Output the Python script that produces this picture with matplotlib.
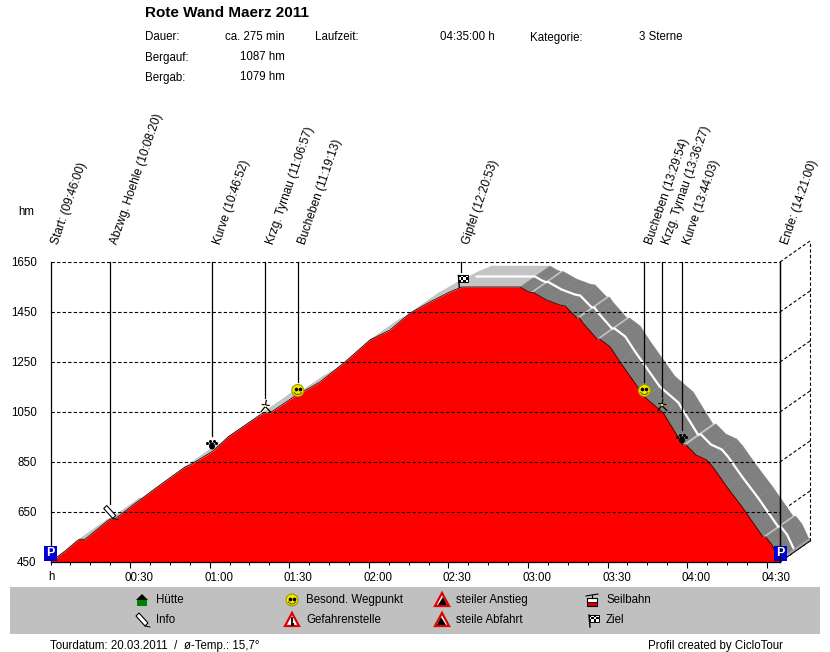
import matplotlib
matplotlib.use("Agg")
import matplotlib.pyplot as plt
from matplotlib.patches import Rectangle, Polygon, Circle, Ellipse, Arc
from matplotlib.collections import PolyCollection
from matplotlib.transforms import ScaledTranslation

plt.rcParams['font.family'] = ['Liberation Sans', 'DejaVu Sans']

# ---------- data ----------
minutes = [0, 5.5, 10.4, 11.3, 13, 22.4, 24.3, 31.1, 41.3, 50.7, 52.6, 61.3, 66.9, 80.1, 82.7,
           92.2, 101.6, 111, 120.4, 128, 135.6, 143, 150.5, 155, 177, 179.6, 181, 182, 187, 192,
           194, 198.4, 199.4, 200.7, 206, 207, 211, 214.7, 224, 231, 238.4, 239.6, 243.3, 247.4,
           249.7, 255, 261, 268.6, 269.6, 272, 275]
elevation = [450, 494, 538, 541, 541, 622, 622, 678, 758, 830, 838, 894, 950, 1046, 1046,
             1114, 1170, 1250, 1338, 1378, 1446, 1490, 1530, 1550, 1550, 1534, 1528, 1528, 1498, 1478,
             1474, 1426, 1426, 1406, 1342, 1342, 1310, 1250, 1110, 1046, 918, 918, 878, 858,
             830, 750, 666, 550, 550, 518, 450]

way_names = ["Start: (09:46:00)", "Abzwg. Hoehle (10:08:20)", "Kurve (10:46:52)",
             "Krzg. Tyrnau (11:06:57)", "Bucheben (11:19:13)", "Gipfel (12:20:53)",
             "Bucheben (13:29:54)", "Krzg. Tyrnau (13:36:27)", "Kurve (13:44:03)", "Ende: (14:21:00)"]
way_min = [0, 22.33, 60.87, 80.95, 93.22, 154.88, 223.9, 230.45, 238.05, 275]
way_ele = [450, 622, 894, 1046, 1110, 1550, 1110, 1050, 918, 450]
way_icon = ["P", "pin", "paw", "run", "smile", "flag", "smile", "run", "paw", "P"]

y_ticks = [450, 650, 850, 1050, 1250, 1450, 1650]
x_major = [30, 60, 90, 120, 150, 180, 210, 240, 270]
x_labels = ["00:30", "01:00", "01:30", "02:00", "02:30", "03:00", "03:30", "04:00", "04:30"]
x_minor_step = 7.5

depth_min = 11.3
depth_hm = 84

# ---------- figure ----------
W, H = 830, 652
fig = plt.figure(figsize=(W / 100, H / 100), dpi=100, facecolor="white")
ax = fig.add_axes([50.5 / W, (H - 562) / H, (780 - 50.5) / W, 300 / H])
ax.set_xlim(0, 275)
ax.set_ylim(450, 1650)
ax.patch.set_alpha(0)
for s in ("top",):
    ax.spines[s].set_visible(False)
for s in ("left", "right", "bottom"):
    ax.spines[s].set_linewidth(0.9)
    ax.spines[s].set_zorder(6)

# back wall, side grid
for h in y_ticks:
    ax.plot([275, 275 + depth_min], [h, h + depth_hm], color="k", lw=0.8, ls=(0, (3, 2)),
            clip_on=False, zorder=1)
ax.plot([275 + depth_min] * 2, [450 + depth_hm, 1650 + depth_hm], color="k", lw=0.8,
        ls=(0, (3, 2)), clip_on=False, zorder=1)

# 3D band
quads, cols = [], []
for i in range(len(minutes) - 1):
    t0, t1, e0, e1 = minutes[i], minutes[i + 1], elevation[i], elevation[i + 1]
    quads.append([(t0, e0), (t1, e1), (t1 + depth_min, e1 + depth_hm), (t0 + depth_min, e0 + depth_hm)])
    cols.append("#c4c4c4" if e1 >= e0 else "#808080")
ax.add_collection(PolyCollection(quads, facecolors=cols, edgecolors=cols, linewidths=0.3,
                                 clip_on=False, zorder=2))
# white stripe in the middle of the band
i0 = minutes.index(155)
ax.plot([t + depth_min / 2 for t in minutes[i0:]], [e + depth_hm / 2 for e in elevation[i0:]],
        color="white", lw=1.6, clip_on=False, zorder=2.5, solid_joinstyle="round")
# floor
ax.add_patch(Polygon([(275, 450), (275 + depth_min, 450 + depth_hm),
                      (275 + depth_min, 450 + depth_hm + 14), (275, 464)],
                     closed=True, fc="#a0a0a0", ec="none", clip_on=False, zorder=2.6))
ax.plot([275, 275 + depth_min], [450, 450 + depth_hm], color="k", lw=0.7, clip_on=False, zorder=2.7)

# profile
ax.fill_between(minutes, elevation, 450, color="#ff0000", lw=0, zorder=3)
ax.plot(minutes, elevation, color="#300000", lw=0.6, zorder=3.2)

# front grid
for h in y_ticks[1:]:
    ax.axhline(h, color="k", lw=0.8, ls=(0, (3, 2)), zorder=4)

# axes
ax.set_yticks(y_ticks)
ax.tick_params(axis="y", length=0, labelsize=8.3, pad=10)
ax.set_xticks(x_major)
ax.set_xticklabels(x_labels)
ax.set_xticks([i * x_minor_step for i in range(int(275 / x_minor_step) + 1)], minor=True)
ax.tick_params(axis="x", which="major", length=4, width=0.8, labelsize=8.3, pad=3)
ax.tick_params(axis="x", which="minor", length=2.5, width=0.7)
off = ScaledTranslation(9 / 100, 0, fig.dpi_scale_trans)
for lb in ax.get_xticklabels():
    lb.set_transform(lb.get_transform() + off)

# ---------- overlay in pixel coordinates ----------
ov = fig.add_axes([0, 0, 1, 1], zorder=10)
ov.set_xlim(0, W)
ov.set_ylim(H, 0)
ov.axis("off")
ov.patch.set_alpha(0)


def px(t, h):
    x, y = ax.transData.transform((t, h))
    return x, H - y


def icon_P(x, y):
    ov.add_patch(Rectangle((x - 6.5, y - 7.5), 13, 15, fc="#0000d0", ec="none"))
    ov.text(x, y + 0.3, "P", color="white", fontsize=9, fontweight="bold", ha="center", va="center")


def icon_smile(x, y):
    ov.add_patch(Circle((x, y), 6, fc="#f6e600", ec="#9a9a00", lw=0.8))
    ov.plot([x - 2, x + 2], [y - 1.5, y - 1.5], ls="none", marker="o", ms=1.6, color="k")
    ov.add_patch(Arc((x, y), 8, 8, theta1=20, theta2=160, color="#605000", lw=0.7))


def icon_paw(x, y):
    ov.add_patch(Ellipse((x, y + 1.5), 6, 7, fc="k", ec="none"))
    ov.plot([x - 4.5, x - 2, x + 2, x + 4.5], [y - 1.5, y - 4, y - 4, y - 1.5], ls="none",
            marker="o", ms=2.2, color="k", mew=0)


def icon_run(x, y):
    ov.plot([x + 1, x, x - 4], [y - 6, y, y + 5], color="k", lw=0.9)
    ov.plot([x, x + 2, x + 5], [y, y + 2, y + 5], color="k", lw=0.9)
    ov.plot([x - 3, x + 4], [y - 2, y - 1], color="k", lw=0.8)
    ov.plot([x], [y - 0.5], marker="s", ms=2, color="#ffe000", mew=0)


def icon_flag(x, y):
    ov.plot([x - 3, x - 2], [y - 5, y + 7], color="k", lw=1)
    s = 2.4
    ov.add_patch(Rectangle((x - 3, y - 5.5), 4 * s, 3 * s, fc="white", ec="k", lw=0.7))
    for r in range(3):
        for c in range(4):
            if (r + c) % 2 == 0:
                ov.add_patch(Rectangle((x - 3 + c * s, y - 5.5 + r * s), s, s, fc="k", ec="none"))


def icon_pin(x, y):
    ov.add_patch(Polygon([(x - 6, y - 4), (x - 3, y - 7), (x + 6, y + 3), (x + 3, y + 6)],
                         closed=True, fc="white", ec="k", lw=0.8))
    ov.plot([x + 3, x + 8], [y + 6, y + 7], color="k", lw=0.7)


ICONS = {"P": icon_P, "smile": icon_smile, "paw": icon_paw, "run": icon_run, "flag": icon_flag, "pin": icon_pin}

# waypoints
for name, t, e, ic in zip(way_names, way_min, way_ele, way_icon):
    x, y = px(t, e)
    top = px(t, 1650)[1]
    if ic == "P":
        if t > 0:
            ov.plot([x, x], [top, y], color="k", lw=0.9)
        ICONS[ic](x, y - 9)
    else:
        ov.plot([x, x], [top, y - 15], color="k", lw=0.9)
        ICONS[ic](x, y - 6.5)
    ov.text(x + 5, 244, name, rotation=71, rotation_mode="anchor", ha="left", va="center",
            fontsize=8.6, color="k")

# header
ov.text(145, 13, "Rote Wand Maerz 2011", fontsize=11, fontweight="bold", ha="left", va="center")
for txt, x, y, ha in [("Dauer:", 145, 37.5, "left"), ("ca. 275 min", 285, 37.5, "right"),
                      ("Laufzeit:", 315, 37.5, "left"), ("04:35:00 h", 495, 37.5, "right"),
                      ("Kategorie:", 530, 37.5, "left"), ("3 Sterne", 639, 37.5, "left"),
                      ("Bergauf:", 145, 57.5, "left"), ("1087 hm", 285, 57.5, "right"),
                      ("Bergab:", 145, 77.5, "left"), ("1079 hm", 285, 77.5, "right"),
                      ("hm", 18, 212, "left"),
                      ("h", 48, 577, "left"),
                      ("Tourdatum: 20.03.2011  /  ø-Temp.: 15,7°", 50, 645.5, "left"),
                      ("Profil created by CicloTour", 783, 645.5, "right")]:
    ov.text(x, y, txt, fontsize=8.3, ha=ha, va="center")

# legend band
ov.add_patch(Rectangle((10, 587), 810, 47, fc="#c0c0c0", ec="none", zorder=0))


def icon_house(x, y):
    ov.add_patch(Rectangle((x - 5, y - 1), 10, 7, fc="#008000", ec="none"))
    ov.add_patch(Polygon([(x - 6, y), (x + 6, y), (x, y - 6)], closed=True, fc="k", ec="none"))


def icon_warn(x, y):
    ov.add_patch(Polygon([(x - 7, y + 6), (x + 7, y + 6), (x, y - 7)], closed=True, fc="white", ec="#e00000", lw=1.6))
    ov.plot([x, x], [y - 2, y + 2], color="k", lw=1.3)
    ov.plot([x], [y + 4], marker="s", ms=1.3, color="k")


def icon_up(x, y):
    ov.add_patch(Polygon([(x - 7, y + 6), (x + 7, y + 6), (x, y - 7)], closed=True, fc="white", ec="#e00000", lw=1.6))
    ov.add_patch(Polygon([(x - 4, y + 5), (x + 5, y + 5), (x + 1, y - 3)], closed=True, fc="k", ec="none"))


def icon_down(x, y):
    ov.add_patch(Polygon([(x - 7, y + 6), (x + 7, y + 6), (x, y - 7)], closed=True, fc="white", ec="#e00000", lw=1.6))
    ov.add_patch(Polygon([(x - 5, y + 5), (x + 4, y + 5), (x - 1, y - 3)], closed=True, fc="k", ec="none"))


def icon_cable(x, y):
    ov.plot([x - 6, x + 6], [y - 4, y - 6], color="k", lw=0.8)
    ov.plot([x, x], [y - 5, y - 2], color="k", lw=0.8)
    ov.add_patch(Rectangle((x - 5, y - 2), 10, 8, fc="white", ec="k", lw=0.8))
    ov.add_patch(Rectangle((x - 5, y + 2), 10, 4, fc="#d00000", ec="k", lw=0.6))


legend_rows = [(142, 600, icon_house, "Hütte"), (142, 620, icon_pin, "Info"),
               (292, 600, icon_smile, "Besond. Wegpunkt"), (292, 620, icon_warn, "Gefahrenstelle"),
               (442, 600, icon_up, "steiler Anstieg"), (442, 620, icon_down, "steile Abfahrt"),
               (592, 600, icon_cable, "Seilbahn"), (592, 620, icon_flag, "Ziel")]
for x, y, fn, label in legend_rows:
    fn(x, y)
    ov.text(x + 14, y, label, fontsize=8.3, ha="left", va="center")

fig.savefig("out.png", dpi=100, facecolor="white")
